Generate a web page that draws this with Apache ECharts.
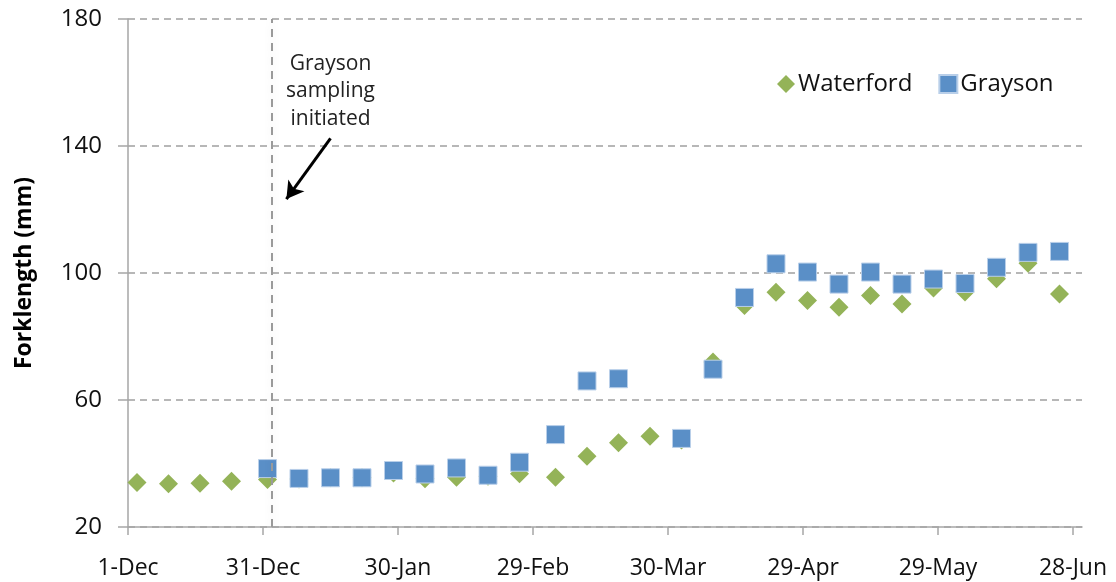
<!DOCTYPE html>
<html>
<head>
<meta charset="utf-8">
<script src="https://cdn.jsdelivr.net/npm/echarts@6/dist/echarts.min.js"></script>
<style>
  html, body { margin: 0; padding: 0; background: #fff; }
  #chart { width: 1116px; height: 582px; }
</style>
</head>
<body>
<div id="chart"></div>
<script>
// sampling dates and fork length (mm)
const waterfordDates = ['2011-12-03', '2011-12-10', '2011-12-17', '2011-12-24', '2012-01-01', '2012-01-08', '2012-01-15', '2012-01-22', '2012-01-29', '2012-02-05', '2012-02-12', '2012-02-19', '2012-02-26', '2012-03-05', '2012-03-12', '2012-03-19', '2012-03-26', '2012-04-02', '2012-04-09', '2012-04-16', '2012-04-23', '2012-04-30', '2012-05-07', '2012-05-14', '2012-05-21', '2012-05-28', '2012-06-04', '2012-06-11', '2012-06-18', '2012-06-25']
const waterfordValues = [34.0, 33.6, 33.8, 34.4, 35.0, 35.1, 35.5, 35.5, 37.0, 35.2, 35.7, 36.0, 36.8, 35.7, 42.3, 46.5, 48.6, 47.4, 72.0, 89.8, 93.9, 91.3, 89.2, 92.9, 90.2, 95.3, 94.0, 98.2, 103.1, 93.4]
const graysonDates = ['2012-01-01', '2012-01-08', '2012-01-15', '2012-01-22', '2012-01-29', '2012-02-05', '2012-02-12', '2012-02-19', '2012-02-26', '2012-03-05', '2012-03-12', '2012-03-19', '2012-04-02', '2012-04-09', '2012-04-16', '2012-04-23', '2012-04-30', '2012-05-07', '2012-05-14', '2012-05-21', '2012-05-28', '2012-06-04', '2012-06-11', '2012-06-18', '2012-06-25']
const graysonValues = [38.4, 35.3, 35.5, 35.5, 37.8, 36.7, 38.6, 36.3, 40.4, 49.1, 66.0, 66.7, 47.9, 69.7, 92.3, 102.9, 100.3, 96.5, 100.3, 96.5, 98.1, 96.7, 101.8, 106.5, 106.8]
const tickDays = [0, 30, 60, 90, 120, 150, 180, 210]
const yTicks = [20, 60, 100, 140, 180]
const startDate = '2011-12-01'
const graysonStart = '2012-01-02'

const MONTHS = ['Jan', 'Feb', 'Mar', 'Apr', 'May', 'Jun', 'Jul', 'Aug', 'Sep', 'Oct', 'Nov', 'Dec']
const DAY = 86400000
const base = Date.parse(startDate + 'T00:00:00Z')
function toDay(s) {
  return Math.round((Date.parse(s + 'T00:00:00Z') - base) / DAY)
}
function dayLabel(d) {
  const dt = new Date(base + d * DAY)
  return dt.getUTCDate() + '-' + MONTHS[dt.getUTCMonth()]
}

const FONT = '"Open Sans", Lato, sans-serif'
const chart = echarts.init(document.getElementById('chart'), null, { renderer: 'canvas' })

const option = {
  animation: false,
  backgroundColor: '#fff',
  textStyle: { fontFamily: FONT },
  grid: {
    left: 128,
    right: 34,
    top: 19,
    bottom: 55,
    containLabel: false
  },
  legend: {
    left: 772,
    top: 67,
    itemWidth: 18,
    itemHeight: 18,
    itemGap: 26,
    textStyle: { fontFamily: FONT, fontSize: 24, color: '#111', padding: [0, 0, 0, -2] },
    data: [
      { name: 'Waterford', icon: 'diamond' },
      { name: 'Grayson', icon: 'rect' }
    ]
  },
  xAxis: {
    type: 'value',
    min: 0,
    max: 212,
    axisLine: { show: true, lineStyle: { color: '#a6a6a6', width: 1.5 } },
    axisTick: { show: true, length: 8, lineStyle: { color: '#a6a6a6', width: 1.5 }, customValues: tickDays },
    axisLabel: {
      customValues: tickDays,
      formatter: (v) => dayLabel(v),
      fontFamily: FONT,
      fontSize: 23,
      color: '#111',
      margin: 30
    },
    splitLine: { show: false }
  },
  yAxis: {
    type: 'value',
    min: yTicks[0],
    max: yTicks[yTicks.length - 1],
    interval: yTicks[1] - yTicks[0],
    name: 'Forklength (mm)',
    nameLocation: 'middle',
    nameGap: 92,
    nameTextStyle: { fontFamily: FONT, fontSize: 23, fontWeight: 'bold', color: '#000' },
    axisLine: { show: true, lineStyle: { color: '#a6a6a6', width: 1.5 } },
    axisTick: { show: true, inside: false, length: 10, lineStyle: { color: '#a6a6a6', width: 1.5 } },
    axisLabel: { fontFamily: FONT, fontSize: 24, color: '#111', margin: 26, padding: [8, 0, 0, 0] },
    splitLine: { show: true, lineStyle: { color: '#a0a0a0', type: [7, 5], width: 1.5 } }
  },
  series: [
    {
      name: 'Waterford',
      type: 'scatter',
      symbol: 'diamond',
      symbolSize: 19,
      itemStyle: { color: '#94b358', opacity: 1 },
      data: waterfordDates.map((d, i) => [toDay(d), waterfordValues[i]]),
      markLine: {
        silent: true,
        symbol: ['none', 'none'],
        label: { show: false },
        lineStyle: {
          color: '#9a9a9a',
          type: [8, 6],
          width: 2,
          shadowColor: 'rgba(0,0,0,0.12)',
          shadowBlur: 8
        },
        data: [{ xAxis: toDay(graysonStart) }]
      },
      markPoint: {
        silent: true,
        symbol: 'circle',
        symbolSize: 0,
        label: {
          show: true,
          formatter: 'Grayson\nsampling\ninitiated',
          fontFamily: FONT,
          fontSize: 21,
          lineHeight: 27.5,
          color: '#222',
          align: 'center'
        },
        data: [{ coord: [45, 157.2] }]
      }
    },
    {
      name: 'Grayson',
      type: 'scatter',
      symbol: 'rect',
      symbolSize: 18,
      itemStyle: { color: '#5a8fc7', borderColor: '#b9cfe9', borderWidth: 1, opacity: 1 },
      data: graysonDates.map((d, i) => [toDay(d), graysonValues[i]]),
      markLine: {
        silent: true,
        symbol: ['none', 'arrow'],
        symbolSize: [15, 17],
        label: { show: false },
        lineStyle: { color: '#000', type: 'solid', width: 3 },
        data: [[{ coord: [45, 142.4] }, { coord: [35.2, 123.3] }]]
      }
    }
  ]
}
chart.setOption(option)
</script>
</body>
</html>
